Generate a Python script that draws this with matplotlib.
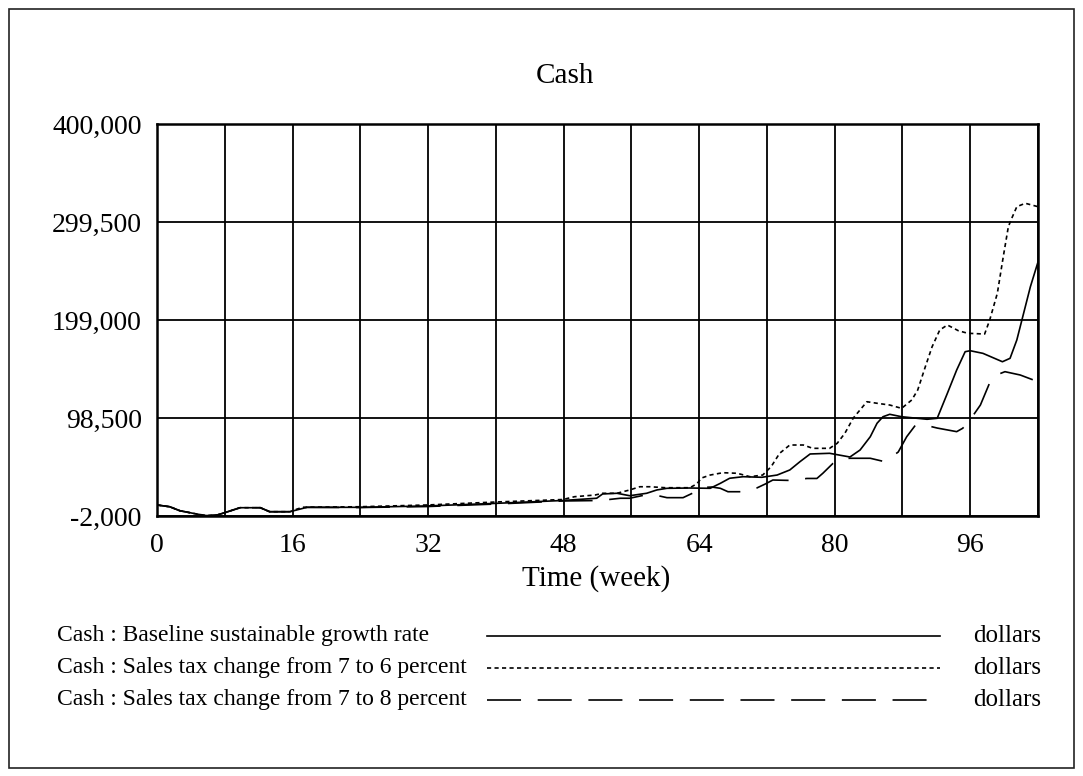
import matplotlib
matplotlib.use("Agg")
import matplotlib.pyplot as plt
from matplotlib.patches import Rectangle
from matplotlib.lines import Line2D
import numpy as np

plt.rcParams['font.family'] = ['Liberation Serif', 'DejaVu Serif']
plt.rcParams['lines.scale_dashes'] = False

# ---------------- data ----------------
weeks_base = [0, 1.5, 2.7, 4.7, 5.9, 7.1, 8.0, 9.8, 12.2, 13.3, 15.7, 17.7, 24.0, 31.9, 40.1, 47.9,
              51.9, 52.6, 54.3, 55.8, 57.8, 59.0, 60.2, 62.9, 65.3, 66.5, 67.6, 69.2, 71.4, 73.2,
              74.7, 75.9, 77.1, 79.4, 81.8, 83.0, 84.2, 85.0, 85.7, 86.5, 87.9, 90.9, 92.1, 93.3,
              94.4, 95.4, 96.0, 97.5, 99.8, 100.7, 101.5, 102.2, 103.1, 104]
cash_base = [9300, 7500, 3400, 0, -1700, -1000, 1400, 6500, 6500, 2400, 2400, 6900, 6900, 8300,
             11000, 13900, 16200, 20600, 21300, 18800, 21300, 24700, 26400, 26700, 26400, 31500,
             36700, 38300, 37700, 40000, 45200, 53700, 61600, 62300, 58500, 65700, 79300, 93100,
             99800, 102300, 99800, 97200, 98200, 123800, 147700, 166500, 167500, 164800, 156200,
             159700, 178500, 202400, 233100, 258500]

weeks_6 = [0, 1.5, 2.7, 4.7, 5.9, 7.1, 8.0, 9.8, 12.2, 13.3, 15.7, 16.5, 17.2, 24.0, 31.9, 40.1,
           47.9, 49.3, 51.7, 52.6, 54.3, 55.8, 57.0, 58.2, 60.0, 62.9, 63.7, 64.3, 65.3, 66.8,
           68.5, 70.0, 71.5, 72.5, 73.5, 74.7, 76.3, 77.4, 79.4, 80.3, 81.2, 82.2, 83.8, 85.0,
           86.5, 87.9, 89.1, 89.8, 90.7, 91.5, 92.4, 93.3, 94.6, 95.7, 97.7, 98.3, 99.2, 99.9,
           100.5, 100.9, 101.5, 102.5, 104]
cash_6 = [9300, 7500, 3400, 0, -1700, -1000, 1400, 6500, 6500, 2400, 2400, 5000, 7000, 7500, 9300,
          12400, 14900, 17800, 19500, 21300, 21300, 24700, 28000, 28000, 27000, 27000, 30800,
          37000, 40000, 42400, 41800, 38300, 40000, 48600, 62300, 70800, 70800, 67400, 67400,
          72600, 82800, 98500, 115200, 113600, 111800, 108400, 117000, 127200, 151100, 171600,
          188700, 193900, 188000, 185400, 184600, 199000, 226400, 263900, 294700, 303300,
          315200, 318700, 315200]

weeks_8 = [0, 1.5, 2.7, 4.7, 5.9, 7.1, 8.0, 9.8, 12.2, 13.3, 15.7, 17.7, 24.0, 31.9, 40.1, 47.9,
           52.3, 54.7, 55.8, 57.6, 58.8, 60.2, 62.1, 63.2, 64.2, 65.5, 66.5, 67.4, 69.4, 70.8,
           71.8, 72.7, 75.1, 76.7, 77.9, 78.6, 79.8, 80.6, 81.8, 84.2, 85.9, 87.5, 88.5, 89.5,
           90.3, 92.1, 94.4, 95.1, 95.7, 97.2, 98.6, 100.1, 101.9, 104]
cash_8 = [9300, 7500, 3400, 0, -1700, -1000, 1400, 6500, 6500, 2400, 2400, 6900, 6700, 7700,
          10300, 13400, 13900, 16200, 16200, 19500, 19500, 16800, 16800, 21300, 27200, 27700,
          26400, 22900, 22900, 26700, 30800, 34900, 34400, 36500, 36500, 41800, 52000, 56500,
          57200, 57200, 53700, 63600, 79300, 90800, 92000, 88200, 84500, 87900, 93100, 111800,
          140900, 146000, 142600, 135700]

y_ticks = [-2000, 98500, 199000, 299500, 400000]
y_tick_labels = ["-2,000", "98,500", "199,000", "299,500", "400,000"]
x_grid = list(range(0, 105, 8))
x_labels = ["0", "", "16", "", "32", "", "48", "", "64", "", "80", "", "96", ""]

series_names = ["Cash : Baseline sustainable growth rate",
                "Cash : Sales tax change from 7 to 6 percent",
                "Cash : Sales tax change from 7 to 8 percent"]
unit = "dollars"
title = "Cash"
xlabel = "Time (week)"

# ---------------- figure ----------------
W, H = 1083, 776
fig = plt.figure(figsize=(W / 100, H / 100), dpi=100)
fig.patch.set_facecolor("white")

# outer frame
fig.patches.append(Rectangle((9 / W, 1 - 768 / H), (1074 - 9) / W, (768 - 9) / H,
                             transform=fig.transFigure, fill=False, edgecolor="#222222",
                             linewidth=1.2))

ax = fig.add_axes([157 / W, 1 - 516 / H, (1038 - 157) / W, (516 - 124) / H])
ax.set_xlim(0, 104)
ax.set_ylim(-2000, 400000)

lw = 1.2
dotted = (0, (3.0, 2.4))
dashed = (0, (24.5, 12.0))
ax.plot(weeks_base, cash_base, color="black", lw=lw, solid_joinstyle="round")
ax.plot(weeks_6, cash_6, color="black", lw=lw, linestyle=dotted)
ax.plot(weeks_8, cash_8, color="black", lw=lw, linestyle=dashed)

ax.set_xticks(x_grid)
ax.set_xticklabels(x_labels)
ax.set_yticks(y_ticks)
ax.set_yticklabels(y_tick_labels)
ax.grid(True, color="black", linewidth=1.3)
ax.set_axisbelow(True)
ax.tick_params(length=0, labelsize=20, colors="black")
ax.tick_params(axis="y", pad=11)
ax.tick_params(axis="x", pad=12)
for s in ax.spines.values():
    s.set_linewidth(1.8)
    s.set_color("black")

fig.text(565 / W, 1 - 76 / H, title, ha="center", va="center", fontsize=21)
fig.text(596 / W, 1 - 579 / H, xlabel, ha="center", va="center", fontsize=21)

# legend rows
row_y = [636, 668, 700]
styles = ["-", dotted, dashed]
for name, yy, st in zip(series_names, row_y, styles):
    yf = 1 - yy / H
    fig.text(57 / W, yf, name, ha="left", va="center", fontsize=17)
    fig.add_artist(Line2D([487 / W, 940 / W], [yf, yf], transform=fig.transFigure,
                          color="black", lw=lw, linestyle=st))
    fig.text(1007 / W, yf, unit, ha="center", va="center", fontsize=18)

fig.savefig("out.png", dpi=100, facecolor="white")
